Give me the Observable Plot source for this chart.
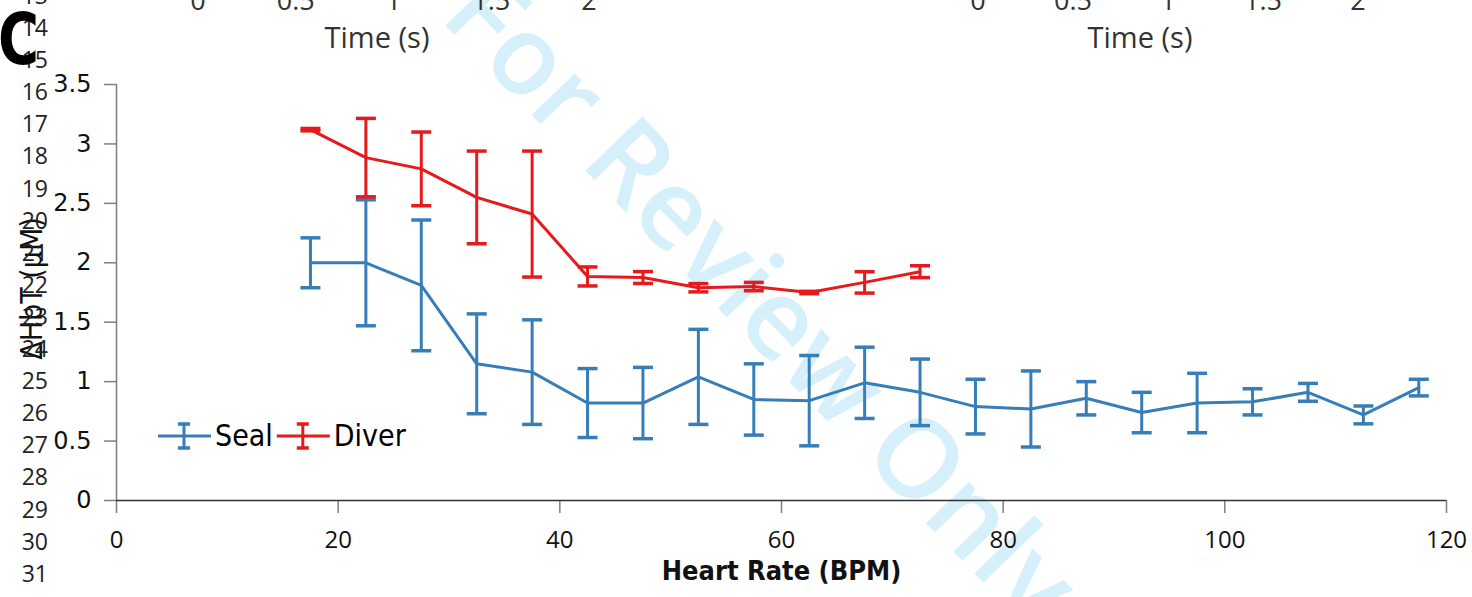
<!DOCTYPE html>
<html><head><meta charset="utf-8">
<script src="https://cdn.jsdelivr.net/npm/d3@7"></script>
<script src="https://cdn.jsdelivr.net/npm/@observablehq/plot@0.6"></script>
<style>
body{margin:0;background:#fff;}
#wrap{position:relative;width:1472px;height:597px;overflow:hidden;background:#fff;}
#wrap > svg{position:absolute;left:0;top:0;}
</style></head><body><div id="wrap"></div>
<script>
// ---- data ----
const heartRate = [17.5, 22.5, 27.5, 32.5, 37.5, 42.5, 47.5, 52.5, 57.5, 62.5, 67.5, 72.5, 77.5, 82.5, 87.5, 92.5, 97.5, 102.5, 107.5, 112.5, 117.5];
const sealMean = [2.00, 2.00, 1.81, 1.15, 1.08, 0.82, 0.82, 1.04, 0.85, 0.84, 0.99, 0.91, 0.79, 0.77, 0.86, 0.74, 0.82, 0.83, 0.91, 0.72, 0.95];
const sealErr  = [0.21, 0.53, 0.55, 0.42, 0.44, 0.29, 0.30, 0.40, 0.30, 0.38, 0.30, 0.28, 0.23, 0.32, 0.14, 0.17, 0.25, 0.11, 0.075, 0.075, 0.07];
const diverMean = [3.12, 2.885, 2.79, 2.55, 2.41, 1.885, 1.876, 1.79, 1.80, 1.75, 1.835, 1.925];
const diverErr  = [0.01, 0.33, 0.31, 0.39, 0.53, 0.08, 0.05, 0.035, 0.035, 0.01, 0.09, 0.05];
const seriesNames = ["Seal", "Diver"];
const seriesColors = ["#377eb8", "#e41a1c"];
const xTicks = [0, 20, 40, 60, 80, 100, 120];
const yTicks = [0, 0.5, 1, 1.5, 2, 2.5, 3, 3.5];
const xTitle = "Heart Rate (BPM)";
const yTitle = "ΔHbT (μM)";
const panelLabel = "C";
const lineNumbers = [13,14,15,16,17,18,19,20,21,22,23,24,25,26,27,28,29,30,31,32];
const topTickLabels = ["0", "0.5", "1", "1.5", "2"];
const topTitle = "Time (s)";
const watermark = "For Review Only";

// ---- table ----
const rows = [];
heartRate.forEach((hr, i) => rows.push({series: seriesNames[0], hr, mean: sealMean[i], err: sealErr[i]}));
diverMean.forEach((m, i) => rows.push({series: seriesNames[1], hr: heartRate[i], mean: m, err: diverErr[i]}));

const W = 1472, H = 597;
const wrap = document.getElementById("wrap");

// ---- background watermark ----
const bg = d3.create("svg").attr("width", W).attr("height", H);
bg.append("text").text(watermark)
  .attr("transform", "translate(762,298) rotate(46)")
  .attr("text-anchor", "middle")
  .attr("dy", "0.35em")
  .attr("font-family", "Open Sans")
  .attr("font-weight", 600)
  .attr("font-size", 110)
  .attr("fill", "#d5f0fb");
wrap.append(bg.node());

// ---- chart ----
const capSymbol = {draw(ctx, size) { ctx.moveTo(-10, 0); ctx.lineTo(10, 0); }};
const chart = Plot.plot({
  width: W, height: H,
  marginLeft: 116, marginRight: 26, marginTop: 84, marginBottom: 97,
  style: {background: "transparent", color: "#111", fontFamily: "DejaVu Sans", overflow: "visible"},
  x: {domain: [0, 120]},
  y: {domain: [0, 3.5]},
  color: {domain: seriesNames, range: seriesColors},
  marks: [
    Plot.ruleX([0], {stroke: "#7f7f7f", strokeWidth: 1.5}),
    Plot.axisY({ticks: yTicks, tickSize: 12, tickPadding: 13, tickFormat: d3.format("~g"), fontSize: 24, fontFamily: "DejaVu Sans", stroke: "#7f7f7f", strokeWidth: 1.5, label: null}),
    Plot.axisX({ticks: xTicks, tickSize: 13, tickPadding: 17, fontSize: 24, fontFamily: "Open Sans", stroke: "#7f7f7f", strokeWidth: 1.5, label: null}),
    Plot.ruleY([0], {stroke: "#333", strokeWidth: 1.5}),
    Plot.ruleX(rows, {x: "hr", y1: d => d.mean - d.err, y2: d => d.mean + d.err, stroke: "series", strokeWidth: 3}),
    Plot.dot(rows, {x: "hr", y: d => d.mean + d.err, symbol: capSymbol, fill: "none", stroke: "series", strokeWidth: 3.5}),
    Plot.dot(rows, {x: "hr", y: d => d.mean - d.err, symbol: capSymbol, fill: "none", stroke: "series", strokeWidth: 3.5}),
    Plot.line(rows, {x: "hr", y: "mean", z: "series", stroke: "series", strokeWidth: 3}),
    Plot.text([xTitle], {frameAnchor: "bottom", dy: 79, fontWeight: "bold", fontSize: 27, fontFamily: "DejaVu Sans Condensed, DejaVu Sans", fill: "#111"}),
    Plot.text([yTitle], {frameAnchor: "left", dx: -84, dy: -4, rotate: -90, textAnchor: "middle", fontSize: 30, fontFamily: "DejaVu Sans Condensed, DejaVu Sans", fill: "#111"})
  ]
});
wrap.append(chart);

// ---- foreground: page furniture and legend ----
const fgNode = d3.create("svg").attr("width", W).attr("height", H).style("pointer-events", "none").node();
wrap.append(fgNode);
const fg = d3.select(fgNode);
// line numbers
fg.append("g").attr("font-family", "Open Sans").attr("font-size", 23).attr("fill", "#222").attr("text-anchor", "end")
  .selectAll("text").data(lineNumbers).join("text")
  .attr("x", 48).attr("y", n => 28 + (n - 14) * 32.1).attr("dy", "0.35em").text(n => n);
// panel label
fg.append("text").text(panelLabel).attr("transform", "translate(-2,64) scale(0.8,1.02)")
  .attr("font-family", "DejaVu Sans").attr("font-weight", "bold").attr("font-size", 70).attr("fill", "#000");
// cut-off axis of the panels above
[[198, 589, 377], [978, 1358, 1140]].forEach(([a, b, c]) => {
  const s = d3.scaleLinear().domain([0, topTickLabels.length - 1]).range([a, b]);
  const g = fg.append("g").attr("font-family", "Open Sans").attr("fill", "#333");
  g.selectAll("text").data(topTickLabels).join("text").attr("x", (d, i) => s(i)).attr("y", 10)
    .attr("text-anchor", "middle").attr("font-size", 27).text(d => d);
  g.append("text").attr("x", c).attr("y", 48).attr("text-anchor", "middle").attr("font-size", 29).text(topTitle);
});
// legend
const lg = fg.append("g").attr("font-family", "DejaVu Sans Condensed, DejaVu Sans").attr("font-size", 30).attr("fill", "#000");
let lx = 158; const ly = 436;
seriesNames.forEach((name, i) => {
  const c = seriesColors[i];
  lg.append("line").attr("x1", lx).attr("x2", lx + 53).attr("y1", ly).attr("y2", ly).attr("stroke", c).attr("stroke-width", 3);
  lg.append("line").attr("x1", lx + 26).attr("x2", lx + 26).attr("y1", ly - 12).attr("y2", ly + 12).attr("stroke", c).attr("stroke-width", 3);
  lg.append("line").attr("x1", lx + 20).attr("x2", lx + 32).attr("y1", ly - 12).attr("y2", ly - 12).attr("stroke", c).attr("stroke-width", 3.5);
  lg.append("line").attr("x1", lx + 20).attr("x2", lx + 32).attr("y1", ly + 12).attr("y2", ly + 12).attr("stroke", c).attr("stroke-width", 3.5);
  const t = lg.append("text").attr("x", lx + 57).attr("y", ly + 10).text(name);
  lx = lx + 57 + t.node().getComputedTextLength() + 4;
});
</script></body></html>
